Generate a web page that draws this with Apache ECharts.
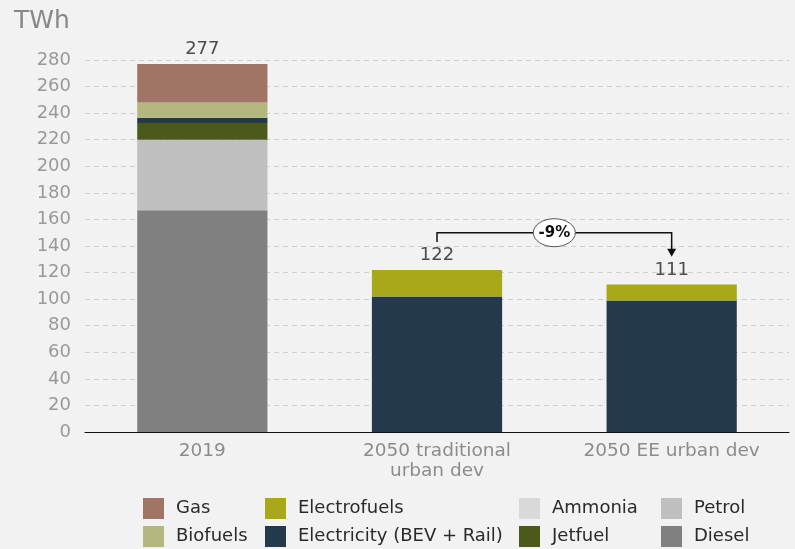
<!DOCTYPE html>
<html><head><meta charset="utf-8">
<script src="https://cdn.jsdelivr.net/npm/echarts@6/dist/echarts.min.js"></script>
<style>html,body{margin:0;padding:0;background:#f2f2f2}#c{width:795px;height:549px}</style>
</head><body><div id="c"></div>
<script>
const categories = ['2019', '2050 traditional\nurban dev', '2050 EE urban dev'];
const diesel      = [167, 0, 0];
const petrol      = [53, 0, 0];
const ammonia     = [0, 0, 0];
const jetfuel     = [12.5, 0, 0];
const electricity = [4, 102, 99];
const biofuels    = [11.5, 0, 0];
const electrofuels= [0, 20, 12];
const gas         = [29, 0, 0];
const yTicks = [0,20,40,60,80,100,120,140,160,180,200,220,240,260,280];

const FONT = 'DejaVu Sans';
const seriesDefs = [
  {name:'Diesel', data:diesel, color:'#808080'},
  {name:'Petrol', data:petrol, color:'#bfbfbf'},
  {name:'Ammonia', data:ammonia, color:'#d9d9d9'},
  {name:'Jetfuel', data:jetfuel, color:'#4b5a1a'},
  {name:'Electricity (BEV + Rail)', data:electricity, color:'#243a4c'},
  {name:'Biofuels', data:biofuels, color:'#b4b87e'},
  {name:'Electrofuels', data:electrofuels, color:'#a8a81a'},
  {name:'Gas', data:gas, color:'#a07565'}
];
const totals = categories.map((c,i)=>Math.round(seriesDefs.reduce((s,d)=>s+d.data[i],0)));

const series = seriesDefs.map(d=>({
  name:d.name, type:'bar', stack:'t', data:d.data, barWidth:'55.5%',
  itemStyle:{color:d.color}, emphasis:{disabled:true}
}));
series.push({
  name:'total', type:'scatter', data:totals, symbolSize:1,
  itemStyle:{color:'rgba(0,0,0,0)'}, silent:true,
  label:{show:true, position:'top', distance:5, formatter:p=>p.value, fontFamily:FONT, fontSize:18, color:'#222'}
});

const legendItems = [
  {name:'Gas', left:143, top:498}, {name:'Biofuels', left:143, top:526},
  {name:'Electrofuels', left:265, top:498}, {name:'Electricity (BEV + Rail)', left:265, top:526},
  {name:'Ammonia', left:519, top:498}, {name:'Jetfuel', left:519, top:526},
  {name:'Petrol', left:661, top:498}, {name:'Diesel', left:661, top:526}
];
const legends = legendItems.map(it=>({
  data:[it.name], left:it.left, top:it.top, padding:0, itemWidth:21, itemHeight:21,
  icon:'rect', selectedMode:false,
  textStyle:{fontFamily:FONT, fontSize:18, color:'#2a2a2a', padding:[0,0,0,7]}
}));

const chart = echarts.init(document.getElementById('c'));
chart.setOption({
  backgroundColor:'#f2f2f2',
  animation:false,
  title:{text:'TWh', left:9, top:4, textStyle:{fontFamily:FONT, fontSize:25, fontWeight:'normal', color:'#888'}},
  grid:{left:85, right:6, top:60, bottom:117},
  legend:legends,
  xAxis:{type:'category', data:categories,
    axisLine:{lineStyle:{color:'#111', width:1.2}}, axisTick:{show:false},
    axisLabel:{fontFamily:FONT, fontSize:18.5, color:'#8c8c8c', margin:9, lineHeight:20}},
  yAxis:{type:'value', min:yTicks[0], max:yTicks[yTicks.length-1], interval:20,
    axisLine:{show:false}, axisTick:{show:false},
    axisLabel:{fontFamily:FONT, fontSize:18, color:'#999', margin:14},
    splitLine:{lineStyle:{type:[5,4], color:'#cfcfcf', width:1}}},
  series:series
});

// annotation bracket between the 2050 scenarios
const annot = {fromIdx:1, toIdx:2, level:150, startVal:143, endVal:132};
const pct = Math.round((totals[annot.toIdx]-totals[annot.fromIdx])/totals[annot.fromIdx]*100);
function px(i,v){return chart.convertToPixel({xAxisIndex:0,yAxisIndex:0},[i,v]);}
const a = px(annot.fromIdx, annot.startVal), b = px(annot.fromIdx, annot.level);
const c = px(annot.toIdx, annot.level), d = px(annot.toIdx, annot.endVal);
const mx = (b[0]+c[0])/2;
chart.setOption({graphic:[
  {type:'polyline', shape:{points:[a,b,c,[d[0],d[1]-7]]}, style:{stroke:'#111', lineWidth:1.5, fill:null}},
  {type:'polygon', shape:{points:[[d[0]-4.5,d[1]-8],[d[0]+4.5,d[1]-8],[d[0],d[1]]]}, style:{fill:'#111'}},
  {type:'ellipse', shape:{cx:mx, cy:b[1], rx:21, ry:14}, style:{fill:'#fff', stroke:'#555', lineWidth:1}},
  {type:'text', x:mx, y:b[1], style:{text:pct+'%', align:'center', verticalAlign:'middle', font:'bold 15px "DejaVu Sans"', fill:'#111'}}
]});
</script></body></html>
